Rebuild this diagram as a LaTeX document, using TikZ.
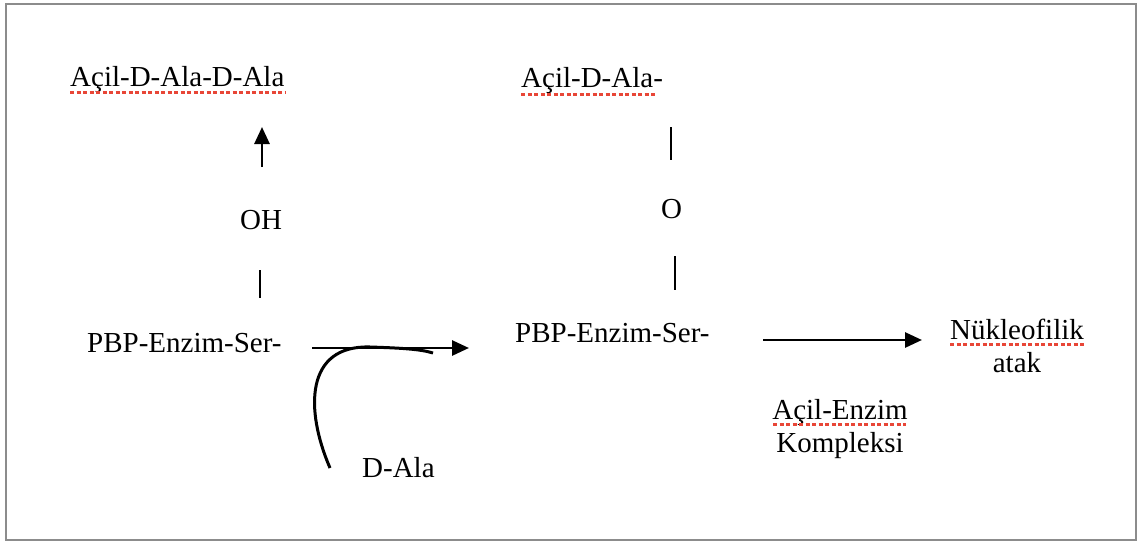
\documentclass[tikz,border=0pt]{standalone}
\usepackage{fontspec}
\setmainfont{Liberation Serif}
\usetikzlibrary{arrows.meta,calc}
\definecolor{frame}{RGB}{140,140,140}
\definecolor{spell}{RGB}{232,70,55}
\begin{document}
\begin{tikzpicture}[x=1pt,y=-1pt,
  lbl/.style={inner sep=0pt,font=\fontsize{29}{33}\selectfont,anchor=base west},
  clbl/.style={inner sep=0pt,font=\fontsize{29}{33}\selectfont,align=center,anchor=base},
  arr/.style={line width=2.8pt,-{Triangle[length=17pt,width=15pt]}},
  bar/.style={line width=1.4pt},
  spellline/.style={spell,line width=3pt,dash pattern=on 4pt off 2.5pt}]
\useasboundingbox (0,0) rectangle (1140,543);
\draw[frame,line width=2.5pt] (6,4) rectangle (1136,540);
% texts
\node[lbl] (t1) at (70,86) {Açil-D-Ala-D-Ala};
\node[lbl] (oh) at (240,229) {OH};
\node[lbl] (pbp1) at (87,352) {PBP-Enzim-Ser-};
\node[lbl] (dala) at (362,477) {D-Ala};
\node[lbl] (t2) at (521,88) {Açil-D-Ala-};
\node[lbl] (o) at (661,218) {O};
\node[lbl] (pbp2) at (515,342) {PBP-Enzim-Ser-};
\node[clbl] (nuk) at (1017,372) {Nükleofilik\\atak};
\node[clbl] (acil) at (840,452) {Açil-Enzim\\Kompleksi};
% spellcheck underlines
\draw[spellline] ($(t1.base west)+(0,6)$) -- ($(t1.base east)+(0,6)$);
\draw[spellline] ($(t2.base west)+(0,6)$) -- ($(t2.base east)+(-8,6)$);
\draw[spellline] (950,344) -- (1084,344);
\draw[spellline] (773,424) -- (906,424);
% coordinates
\coordinate (u1) at (262,167);
\coordinate (u2) at (262,127);
\coordinate (b1a) at (260,270);
\coordinate (b1b) at (260,298);
\coordinate (b2a) at (671,127);
\coordinate (b2b) at (671,160);
\coordinate (b3a) at (675,256);
\coordinate (b3b) at (675,290);
\coordinate (a1s) at (312,348);
\coordinate (a1e) at (469,348);
\coordinate (a2s) at (763,340);
\coordinate (a2e) at (922,340);
\coordinate (cs) at (330,468);
\coordinate (ce) at (433,353);
% connectors
\draw[arr] (u1) -- (u2);
\draw[bar] (b1a) -- (b1b);
\draw[bar] (b2a) -- (b2b);
\draw[bar] (b3a) -- (b3b);
\draw[arr] (a1s) -- (a1e);
\draw[arr] (a2s) -- (a2e);
\draw[line width=3pt] (cs) .. controls (305,410) and (305,345) .. (370,347) .. controls (400,348) and (420,349) .. (ce);
\end{tikzpicture}
\end{document}
